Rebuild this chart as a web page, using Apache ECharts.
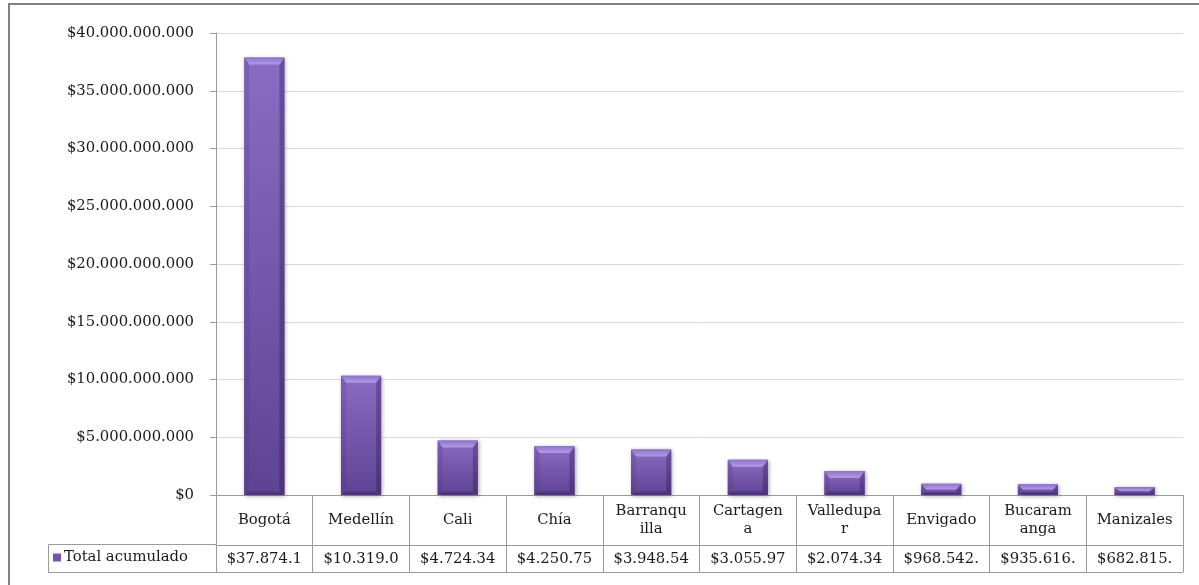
<!DOCTYPE html>
<html><head><meta charset="utf-8">
<script src="https://cdn.jsdelivr.net/npm/echarts@6/dist/echarts.min.js"></script>
<style>html,body{margin:0;padding:0;background:#fff}#c{width:1199px;height:585px}</style>
</head><body><div id="c"></div>
<script>
const categories = ['Bogotá','Medellín','Cali','Chía','Barranquilla','Cartagena','Valledupar','Envigado','Bucaramanga','Manizales'];
const categoryLabels = ['Bogotá','Medellín','Cali','Chía','Barranqu\nilla','Cartagen\na','Valledupa\nr','Envigado','Bucaram\nanga','Manizales'];
const seriesName = 'Total acumulado';
const values = [37874100000,10319000000,4724340000,4250750000,3948540000,3055970000,2074340000,968542000,935616000,682815000];
const tableLabels = ['$37.874.1','$10.319.0','$4.724.34','$4.250.75','$3.948.54','$3.055.97','$2.074.34','$968.542.','$935.616.','$682.815.'];
const yTicks = {min:0, max:40000000000, interval:5000000000};

const FONT = 'DejaVu Serif';
const FS = 14.8;
const GRID_LINE = '#9a9a9a';
function fmt(v){ return '$' + String(Math.round(v)).replace(/\B(?=(\d{3})+(?!\d))/g,'.'); }

const chart = echarts.init(document.getElementById('c'), null, {renderer:'canvas'});
chart.setOption({
  animation:false,
  backgroundColor:'#fff',
  textStyle:{fontFamily:FONT},
  grid:{left:216, right:16, top:33, bottom:90, containLabel:false},
  legend:{show:true, data:[seriesName], left:53, top:550, padding:0, itemWidth:8, itemHeight:8, icon:'rect',
    textStyle:{fontFamily:FONT, fontSize:FS, color:'#1a1a1a', padding:[0,0,0,-2]}, selectedMode:false},
  xAxis:[
    {type:'category', data:categoryLabels, position:'bottom', boundaryGap:true,
     axisLine:{show:true, lineStyle:{color:GRID_LINE, width:1}},
     axisTick:{show:true, length:50, interval:0, lineStyle:{color:GRID_LINE}},
     axisLabel:{interval:0, margin:25, verticalAlign:'middle', fontFamily:FONT, fontSize:FS, color:'#1a1a1a', lineHeight:18}},
    {type:'category', data:tableLabels, position:'bottom', offset:50, boundaryGap:true,
     axisLine:{show:true, lineStyle:{color:GRID_LINE, width:1}},
     axisTick:{show:true, length:27, interval:0, lineStyle:{color:GRID_LINE}},
     axisLabel:{interval:0, margin:14, verticalAlign:'middle', fontFamily:FONT, fontSize:FS, color:'#1a1a1a'}},
    {type:'category', data:categories, position:'bottom', offset:77, boundaryGap:true,
     axisLine:{show:true, lineStyle:{color:GRID_LINE, width:1}},
     axisTick:{show:false}, axisLabel:{show:false}}
  ],
  yAxis:{type:'value', min:yTicks.min, max:yTicks.max, interval:yTicks.interval,
    axisLine:{show:true, lineStyle:{color:GRID_LINE}},
    axisTick:{show:true, length:6, lineStyle:{color:GRID_LINE}},
    splitLine:{show:true, lineStyle:{color:'#d9d9d9'}},
    axisLabel:{margin:22, fontFamily:FONT, fontSize:FS, color:'#1a1a1a', formatter:fmt}},
  graphic:[
    {type:'rect', shape:{x:48.5, y:544.5, width:168, height:28}, style:{fill:'none', stroke:GRID_LINE, lineWidth:1}, z:-1},
    {type:'rect', shape:{x:9, y:4, width:1200, height:600}, style:{fill:'none', stroke:'#808080', lineWidth:2}, silent:true}
  ],
  series:[{
    name:seriesName, type:'custom', xAxisIndex:0,
    itemStyle:{color:'#7556ac'},
    data: values.map((v,i)=>[i,v]),
    encode:{x:0, y:1},
    renderItem:function(params, api){
      const top = api.coord([api.value(0), api.value(1)]);
      const bot = api.coord([api.value(0), 0]);
      const w = api.size([1,0])[0]*0.415;
      const x = top[0]-w/2, y = top[1], yb = bot[1], h = yb-y;
      const b = Math.min(7, h/2), s = Math.min(5, w/4);
      const g = (c1,c2)=>({type:'linear',x:0,y:0,x2:0,y2:1,colorStops:[{offset:0,color:c1},{offset:1,color:c2}]});
      return {type:'group', children:[
        {type:'rect', shape:{x:x, y:y, width:w, height:h},
          style:{fill:g('#8a6cc2','#5f4393'), shadowBlur:4, shadowColor:'rgba(0,0,0,0.35)', shadowOffsetX:1, shadowOffsetY:1}},
        {type:'polygon', shape:{points:[[x,y],[x+s,y+b],[x+s,yb-b*0.5],[x,yb]]}, style:{fill:g('#7d5fb6','#5a3f8c')}},
        {type:'polygon', shape:{points:[[x+w,y],[x+w-s,y+b],[x+w-s,yb-b*0.5],[x+w,yb]]}, style:{fill:g('#6a4e9f','#4c337b')}},
        {type:'polygon', shape:{points:[[x,yb],[x+s,yb-b*0.5],[x+w-s,yb-b*0.5],[x+w,yb]]}, style:{fill:'#4e3580'}},
        {type:'polygon', shape:{points:[[x,y],[x+w,y],[x+w-s,y+b],[x+s,y+b]]}, style:{fill:g('#8e72c8','#b29be6')}}
      ]};
    }
  }]
});
</script></body></html>
